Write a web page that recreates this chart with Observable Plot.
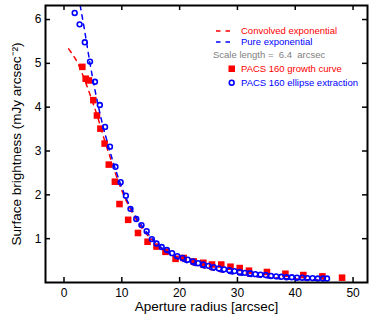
<!DOCTYPE html>
<html><head><meta charset="utf-8">
<script src="https://cdn.jsdelivr.net/npm/d3@7"></script>
<script src="https://cdn.jsdelivr.net/npm/@observablehq/plot@0.6"></script>
<style>
body{margin:0;background:#fff}
svg{font-family:"Liberation Sans",Arial,Helvetica,sans-serif}
</style>
</head><body><div id="chart"></div>
<script>
// PACS 160 ellipse extraction (blue open circles)
const ellipseRadius = [1.85,2.7,3.6,4.5,5.35,6.2,7.1,7.95,8.9,9.8,10.7,11.5,12.5,13.4,14.3,15.2,16.0,16.9,17.8,18.7,19.6,20.5,21.4,22.3,23.2,24.1,25.0,25.9,26.8,27.7,28.6,29.5,30.4,31.3,32.2,33.1,34.0,34.9,35.8,36.7,37.6,38.5,39.4,40.3,41.2,42.1,43.0,43.9,44.8,45.5];
const ellipseBrightness = [6.15,5.89,5.48,5.04,4.58,4.05,3.55,3.10,2.64,2.29,1.98,1.68,1.45,1.31,1.17,0.99,0.89,0.81,0.74,0.67,0.60,0.56,0.52,0.48,0.44,0.41,0.38,0.35,0.32,0.30,0.28,0.26,0.24,0.22,0.21,0.19,0.18,0.17,0.15,0.14,0.13,0.12,0.12,0.11,0.11,0.10,0.10,0.09,0.09,0.09];
// PACS 160 growth curve (red squares)
const growthRadius = [3.17,3.75,4.3,5.07,5.7,6.3,7.03,7.75,8.8,9.6,11.1,12.8,14.45,16.0,17.55,19.3,20.7,22.45,24.1,25.6,27.2,28.8,30.4,32.0,35.1,38.3,41.4,44.7,48.1];
const growthBrightness = [4.92,4.65,4.61,4.16,3.81,3.51,3.17,2.69,2.30,1.79,1.43,1.13,0.93,0.82,0.70,0.54,0.56,0.48,0.45,0.41,0.41,0.36,0.33,0.27,0.24,0.20,0.17,0.14,0.11];
// Convolved exponential (red dashed)
const convolvedRadius = [0.8,1.6,2.4,3.2,4.2,5.0,5.9,7.0,8.0,9.0,10.0,11.0,12.0,14.0,16.0,18.0,20.0,23.0,26.0,30.0,35.0,40.0,45.0];
const convolvedBrightness = [5.33,5.18,5.0,4.75,4.4,4.1,3.74,3.25,2.85,2.45,2.1,1.8,1.55,1.15,0.88,0.68,0.53,0.38,0.28,0.19,0.12,0.08,0.05];
// Pure exponential (blue dashed)
const pureRadius = [2.8,3.5,4.5,5.5,6.5,7.5,8.5,9.5,10.5,12.0,14.0,16.0,18.0,20.0,23.0,26.0,30.0,35.0,40.0,45.0];
const pureBrightness = [6.32,5.8,5.0,4.3,3.7,3.2,2.75,2.35,2.0,1.6,1.2,0.9,0.68,0.52,0.38,0.28,0.18,0.11,0.07,0.05];

const xTicks = [0,10,20,30,40,50];
const yTicks = [1,2,3,4,5,6];
const xLabel = "Aperture radius [arcsec]";
const yLabel = "Surface brightness (mJy arcsec\u207B\u00B2)";
const legendLines = ["Convolved exponential","Pure exponential"];
const scaleLength = 6.4;
const legendMarkers = ["PACS 160 growth curve","PACS 160 ellipse extraction"];

const rows = (xs, ys) => xs.map((x, i) => ({x, y: ys[i]}));
const W = 374, H = 320, mL = 45, mR = 7, mT = 5, mB = 38;
const fw = W - mL - mR, fh = H - mT - mB;
const RED = "#ff0000", BLUE = "#0000ff";
const font = '"Liberation Sans",Arial,Helvetica,sans-serif';

const chart = Plot.plot({
  width: W, height: H,
  marginLeft: mL, marginRight: mR, marginTop: mT, marginBottom: mB,
  style: {fontFamily: font, fontSize: "12px", color: "black", background: "white", overflow: "visible"},
  x: {domain: [-3.2, 52.5]},
  y: {domain: [0, 6.32]},
  marks: [
    Plot.axisX({ticks: xTicks, tickFormat: d3.format("d"), tickSize: 0, tickPadding: 5.5, label: null, fontSize: 12}),
    Plot.axisY({ticks: yTicks, tickFormat: d3.format("d"), tickSize: 0, tickPadding: 4, label: null, fontSize: 12}),
    Plot.tickX(xTicks, {x: d => d, insetTop: fh - 5, stroke: "black", strokeWidth: 1.5}),
    Plot.tickX(xTicks, {x: d => d, insetBottom: fh - 5, stroke: "black", strokeWidth: 1.5}),
    Plot.tickY(yTicks, {y: d => d, insetRight: fw - 5, stroke: "black", strokeWidth: 1.5}),
    Plot.tickY(yTicks, {y: d => d, insetLeft: fw - 5, stroke: "black", strokeWidth: 1.5}),
    Plot.dot(rows(growthRadius, growthBrightness), {x: "x", y: "y", symbol: "square", r: 3.7, fill: RED, stroke: "none"}),
    Plot.line(rows(convolvedRadius, convolvedBrightness), {x: "x", y: "y", stroke: RED, strokeWidth: 1.5, strokeDasharray: "4.5,5", curve: "monotone-x"}),
    Plot.dot(rows(ellipseRadius, ellipseBrightness), {x: "x", y: "y", r: 2.4, stroke: BLUE, strokeWidth: 1.6, fill: "none"}),
    Plot.line(rows(pureRadius, pureBrightness), {x: "x", y: "y", stroke: BLUE, strokeWidth: 1.5, strokeDasharray: "4.5,5", curve: "monotone-x"}),
    Plot.frame({stroke: "black", strokeWidth: 2}),
    Plot.text([xLabel], {frameAnchor: "bottom", dy: 19, lineAnchor: "top", textAnchor: "middle", fontSize: 13.5, fill: "black"}),
    Plot.text([yLabel], {frameAnchor: "left", dx: -29, rotate: -90, textAnchor: "middle", lineAnchor: "middle", fontSize: 13.5, fill: "black"})
  ]
});
document.getElementById("chart").appendChild(chart);

// Legend (inside the frame, top right)
const svg = d3.select(chart);
const g = svg.append("g").attr("font-family", font).attr("font-size", 9.5).attr("text-anchor", "start");
const tx = 241;
[[RED, 31], [BLUE, 42]].forEach(([c, y], i) => {
  g.append("line").attr("x1", 216).attr("x2", 230).attr("y1", y).attr("y2", y)
    .attr("stroke", c).attr("stroke-width", 1.5).attr("stroke-dasharray", "4.5,5");
  g.append("text").attr("x", tx).attr("y", y).attr("dy", "0.35em").attr("fill", c).text(legendLines[i]);
});
g.append("text").attr("x", 213).attr("y", 55).attr("dy", "0.35em").attr("fill", "#808080")
  .style("white-space", "pre").attr("xml:space", "preserve")
  .text(`Scale length =  ${scaleLength}  arcsec`);
g.append("rect").attr("x", 228.5).attr("y", 65.5).attr("width", 6.5).attr("height", 6.5).attr("fill", RED);
g.append("text").attr("x", tx).attr("y", 69).attr("dy", "0.35em").attr("fill", RED).text(legendMarkers[0]);
g.append("circle").attr("cx", 231.7).attr("cy", 82.7).attr("r", 2.4).attr("fill", "none").attr("stroke", BLUE).attr("stroke-width", 1.6);
g.append("text").attr("x", tx).attr("y", 82.7).attr("dy", "0.35em").attr("fill", BLUE).text(legendMarkers[1]);
</script>
</body></html>
